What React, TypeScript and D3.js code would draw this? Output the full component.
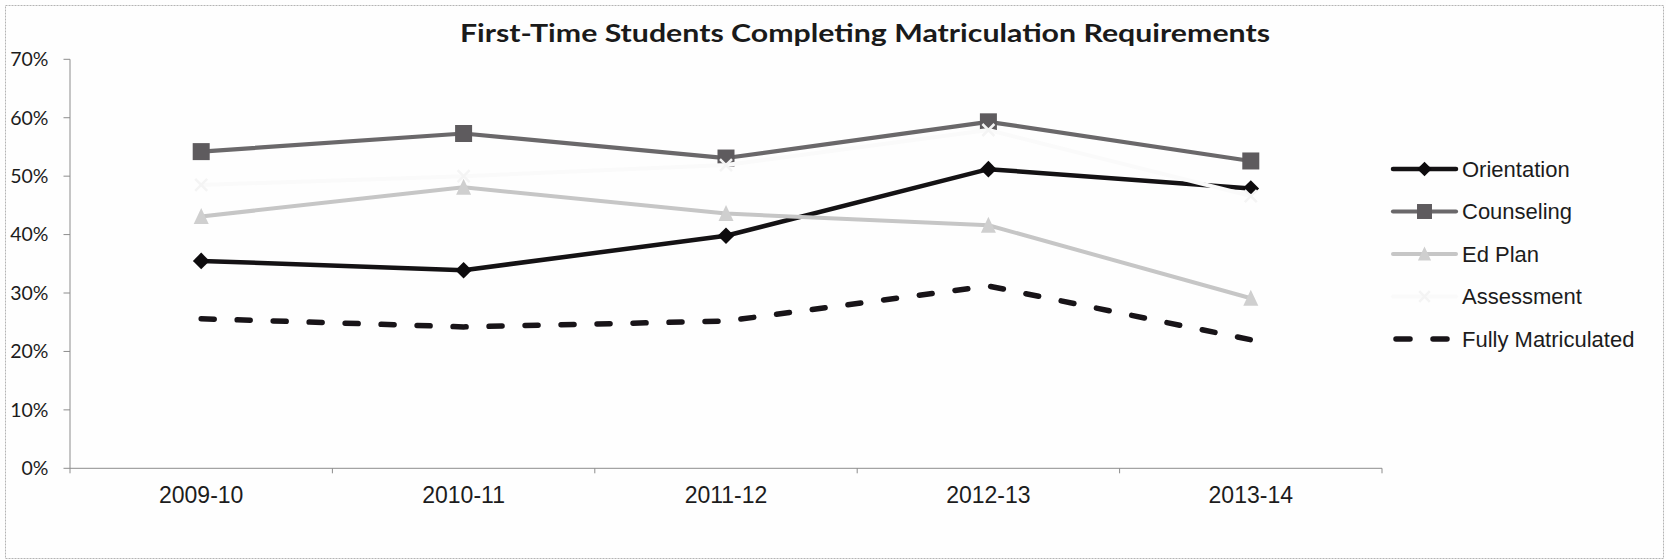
import React from "react";
import * as d3 from "d3";

// School years on the x axis
const years = ["2009-10", "2010-11", "2011-12", "2012-13", "2013-14"];

// Share of first-time students completing each step (fractions)
const orientation = [0.355, 0.339, 0.398, 0.512, 0.479];
const counseling = [0.542, 0.573, 0.531, 0.593, 0.526];
const edPlan = [0.431, 0.481, 0.436, 0.416, 0.291];
const assessment = [0.485, 0.5, 0.519, 0.579, 0.466];
const fullyMatriculated = [0.256, 0.242, 0.252, 0.312, 0.22];

const yTicks = [0, 0.1, 0.2, 0.3, 0.4, 0.5, 0.6, 0.7];

type Marker = "diamond" | "square" | "triangle" | "x" | "none";

interface Series {
  name: string;
  values: number[];
  stroke: string;
  width: number;
  marker: Marker;
  markerFill: string;
  dash?: string;
}

const series: Series[] = [
  { name: "Orientation", values: orientation, stroke: "#141214", width: 4.5, marker: "diamond", markerFill: "#0d0b0d" },
  { name: "Counseling", values: counseling, stroke: "#6a686a", width: 4.2, marker: "square", markerFill: "#5e5b5e" },
  { name: "Ed Plan", values: edPlan, stroke: "#c6c6c6", width: 4, marker: "triangle", markerFill: "#cfcfcf" },
  { name: "Assessment", values: assessment, stroke: "#fafafa", width: 4, marker: "x", markerFill: "#f4f4f4" },
  { name: "Fully Matriculated", values: fullyMatriculated, stroke: "#181418", width: 5.5, marker: "none", markerFill: "none", dash: "13 23" },
];

const W = 1666;
const H = 560;

const x = d3.scaleBand<string>().domain(years).range([70, 1382]);
const y = d3.scaleLinear().domain([0, 0.7]).range([468.3, 59.3]);

const lineGen = d3
  .line<number>()
  .x((_, i) => (x(years[i]) as number) + x.bandwidth() / 2)
  .y((v) => y(v));

function MarkerShape({ type, cx, cy, fill, scale = 1 }: { type: Marker; cx: number; cy: number; fill: string; scale?: number }) {
  if (type === "diamond") {
    const r = 8.3 * scale;
    return <path d={`M${cx},${cy - r}L${cx + r},${cy}L${cx},${cy + r}L${cx - r},${cy}Z`} fill={fill} />;
  }
  if (type === "square") {
    const s = 17 * scale;
    return <rect x={cx - s / 2} y={cy - s / 2} width={s} height={s} fill={fill} />;
  }
  if (type === "triangle") {
    const w = 15 * scale;
    const h = 15 * scale;
    return <path d={`M${cx},${cy - h / 2 - 1}L${cx + w / 2},${cy + h / 2}L${cx - w / 2},${cy + h / 2}Z`} fill={fill} />;
  }
  if (type === "x") {
    const r = 6 * scale;
    return (
      <path
        d={`M${cx - r},${cy - r}L${cx + r},${cy + r}M${cx - r},${cy + r}L${cx + r},${cy - r}`}
        stroke={fill}
        strokeWidth={2.5}
        fill="none"
      />
    );
  }
  return null;
}

const legendRows = [169, 211.5, 254, 296.5, 339];

export default function App() {
  const axisColor = "#8c8c8c";
  return (
    <div style={{ position: "absolute", left: 0, top: 0, width: W, height: H, background: "#fff" }}>
      <svg width={W} height={H} viewBox={`0 0 ${W} ${H}`} style={{ display: "block" }}>
        <rect x={0} y={0} width={W} height={H} fill="#fefefe" />
        {/* chart frame */}
        <rect x={5.5} y={5.5} width={1658} height={553} fill="none" stroke="#b4b4b4" strokeWidth={1} strokeDasharray="2 1" />

        {/* title */}
        <text
          x={865}
          y={41.5}
          textAnchor="middle"
          fontFamily="Lato, 'Open Sans', sans-serif"
          fontWeight={700}
          fontSize={25}
          fill="#1a1a1a"
          textLength={810}
          lengthAdjust="spacingAndGlyphs"
        >
          First-Time Students Completing Matriculation Requirements
        </text>

        {/* y axis */}
        <line x1={70} x2={70} y1={y(0.7)} y2={y(0)} stroke={axisColor} strokeWidth={1} />
        {yTicks.map((t) => (
          <g key={t}>
            <line x1={63.5} x2={70} y1={y(t)} y2={y(t)} stroke={axisColor} strokeWidth={1} />
            <text
              x={48.5}
              y={y(t)}
              dy="0.35em"
              textAnchor="end"
              fontFamily="Lato, sans-serif"
              fontSize={19.5}
              fill="#1c1c1c"
            >
              {d3.format(".0%")(t)}
            </text>
          </g>
        ))}

        {/* x axis */}
        <line x1={70} x2={1382} y1={y(0)} y2={y(0)} stroke={axisColor} strokeWidth={1} />
        {[...years.map((c) => x(c) as number), 1382].map((bx, i) => (
          <line key={i} x1={bx} x2={bx} y1={y(0)} y2={y(0) + 5} stroke={axisColor} strokeWidth={1} />
        ))}
        {years.map((c) => (
          <text
            key={c}
            x={(x(c) as number) + x.bandwidth() / 2}
            y={503}
            textAnchor="middle"
            fontFamily="'Liberation Sans', Arial, sans-serif"
            fontSize={23}
            fill="#1c1c1c"
          >
            {c}
          </text>
        ))}

        {/* series lines and markers */}
        {series.map((s) => (
          <g key={s.name}>
            <path
              d={lineGen(s.values) || ""}
              fill="none"
              stroke={s.stroke}
              strokeWidth={s.width}
              strokeLinejoin="round"
              strokeLinecap="round"
              strokeDasharray={s.dash}
            />
            {s.values.map((v, i) => (
              <MarkerShape
                key={i}
                type={s.marker}
                cx={(x(years[i]) as number) + x.bandwidth() / 2}
                cy={y(v)}
                fill={s.markerFill}
              />
            ))}
          </g>
        ))}

        {/* legend */}
        {series.map((s, i) => {
          const ly = legendRows[i];
          return (
            <g key={s.name}>
              <line
                x1={s.dash ? 1396 : 1393}
                x2={s.dash ? 1453 : 1456}
                y1={ly}
                y2={ly}
                stroke={s.stroke}
                strokeWidth={s.width}
                strokeLinecap="round"
                strokeDasharray={s.dash ? "14 23" : undefined}
              />
              <MarkerShape type={s.marker} cx={1424.5} cy={ly} fill={s.markerFill} scale={0.88} />
              <text
                x={1462}
                y={ly}
                dy="0.36em"
                fontFamily="'Liberation Sans', Arial, sans-serif"
                fontSize={22}
                fill="#1c1c1c"
              >
                {s.name}
              </text>
            </g>
          );
        })}
      </svg>
    </div>
  );
}
